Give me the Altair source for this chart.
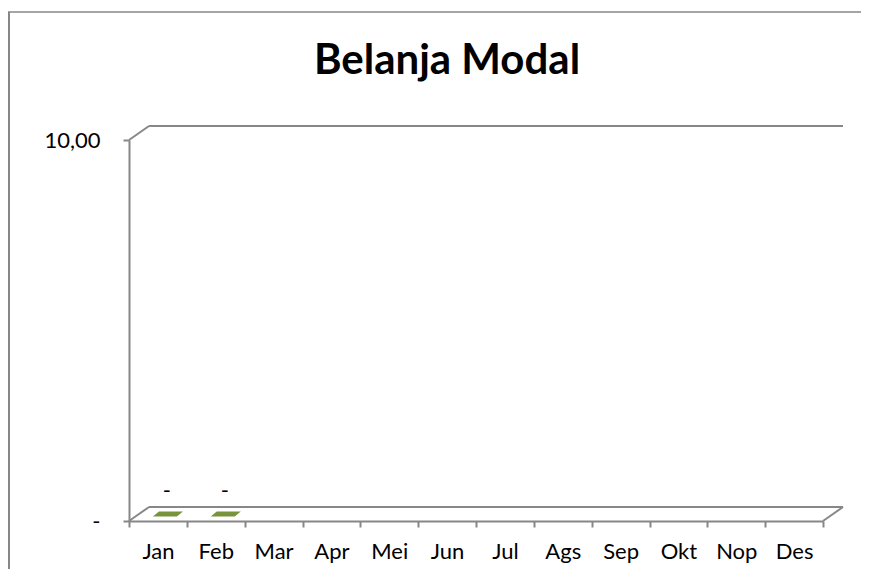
import altair as alt
import pandas as pd

# ---- data ----
months = ["Jan", "Feb", "Mar", "Apr", "Mei", "Jun", "Jul", "Ags", "Sep", "Okt", "Nop", "Des"]
data_months = ["Jan", "Feb"]
data_values = [0, 0]
y_ticks = [0, 10]
title_text = "Belanja Modal"

W, H = 694, 381
DEPTH_X, DEPTH_Y = 20, -14
FONT = "Lato"
GRAY = "#878787"
GREEN = "#77933C"

df = pd.DataFrame({"bulan": data_months, "nilai": data_values})
one = pd.DataFrame({"k": [0]})

x_scale = alt.Scale(domain=months, paddingInner=0, paddingOuter=0)
y_scale = alt.Scale(domain=[0, 10], nice=False, zero=True)

x_axis = alt.Axis(
    title=None, tickBand="extent", domainColor=GRAY, domainWidth=2,
    tickColor=GRAY, tickWidth=2, tickSize=6, labelFont=FONT, labelFontSize=22,
    labelColor="black", labelPadding=14, labelAngle=0, grid=False, zindex=1,
)
y_axis = alt.Axis(
    title=None, values=y_ticks, domainColor=GRAY, domainWidth=2,
    tickColor=GRAY, tickWidth=2, tickSize=6, labelFont=FONT, labelFontSize=22,
    labelColor="black", labelPadding=23, grid=False, zindex=1,
    labelExpr="datum.value == 0 ? '-' : replace(format(datum.value, '.2f'), '.', ',')",
)

# outer chart frame (decoration): left and top edges
frame_left = alt.Chart(one).mark_rule(color=GRAY, strokeWidth=2).encode(
    x=alt.value(-120), y=alt.value(-128), y2=alt.value(H + 80)
)
frame_top = alt.Chart(one).mark_rule(color=GRAY, strokeWidth=1.5).encode(
    x=alt.value(-121), x2=alt.value(W + 60), y=alt.value(-128)
)

# 3D back-wall / floor lines
back_top = alt.Chart(one).mark_rule(
    color=GRAY, strokeWidth=2, xOffset=DEPTH_X, x2Offset=DEPTH_X, yOffset=DEPTH_Y
).encode(x=alt.value(0), x2=alt.value(W), y=alt.datum(10, scale=y_scale))

top_diag = alt.Chart(one).mark_rule(
    color=GRAY, strokeWidth=2, y2Offset=DEPTH_Y
).encode(x=alt.value(0), x2=alt.value(DEPTH_X), y=alt.datum(10), y2=alt.datum(10))

back_floor = alt.Chart(one).mark_rule(
    color=GRAY, strokeWidth=2, xOffset=DEPTH_X, x2Offset=DEPTH_X, yOffset=DEPTH_Y
).encode(x=alt.value(0), x2=alt.value(W), y=alt.datum(0))

floor_left = alt.Chart(one).mark_rule(
    color=GRAY, strokeWidth=2, y2Offset=DEPTH_Y
).encode(x=alt.value(0), x2=alt.value(DEPTH_X), y=alt.datum(0), y2=alt.datum(0))

floor_right = alt.Chart(one).mark_rule(
    color=GRAY, strokeWidth=2, y2Offset=DEPTH_Y
).encode(x=alt.value(W), x2=alt.value(W + DEPTH_X), y=alt.datum(0), y2=alt.datum(0))

# flat (zero-height) 3D columns drawn as parallelograms
para = "M -1 0.17 L 0.6 0.17 L 1 -0.17 L -0.6 -0.17 Z"
bars = alt.Chart(df).mark_point(
    shape=para, size=900, filled=True, opacity=1, color=GREEN,
    xOffset=10, yOffset=-7,
).encode(
    x=alt.X("bulan:N", scale=x_scale, axis=x_axis, sort=months),
    y=alt.Y("nilai:Q", scale=y_scale, axis=y_axis),
)

labels = alt.Chart(df).transform_calculate(
    lbl="datum.nilai == 0 ? '-' : replace(format(datum.nilai, '.2f'), '.', ',')"
).mark_text(font=FONT, fontSize=22, color="black", baseline="alphabetic",
            xOffset=9, yOffset=-23).encode(
    x=alt.X("bulan:N", scale=x_scale, sort=months),
    y=alt.Y("nilai:Q", scale=y_scale),
    text="lbl:N",
)

chart = alt.layer(
    frame_left, frame_top, back_top, top_diag, back_floor, floor_left, floor_right, bars, labels
).properties(
    width=W, height=H,
    title=alt.TitleParams(title_text, font=FONT, fontSize=42, fontWeight="bold",
                          color="black", anchor="middle", dx=-29, offset=0, dy=72),
    autosize=alt.AutoSizeParams(type="none"),
    padding={"left": 121, "top": 132, "right": 38, "bottom": 48},
).configure_view(stroke=None)

chart.save("out.html", embed_options={"renderer": "svg", "actions": False})
